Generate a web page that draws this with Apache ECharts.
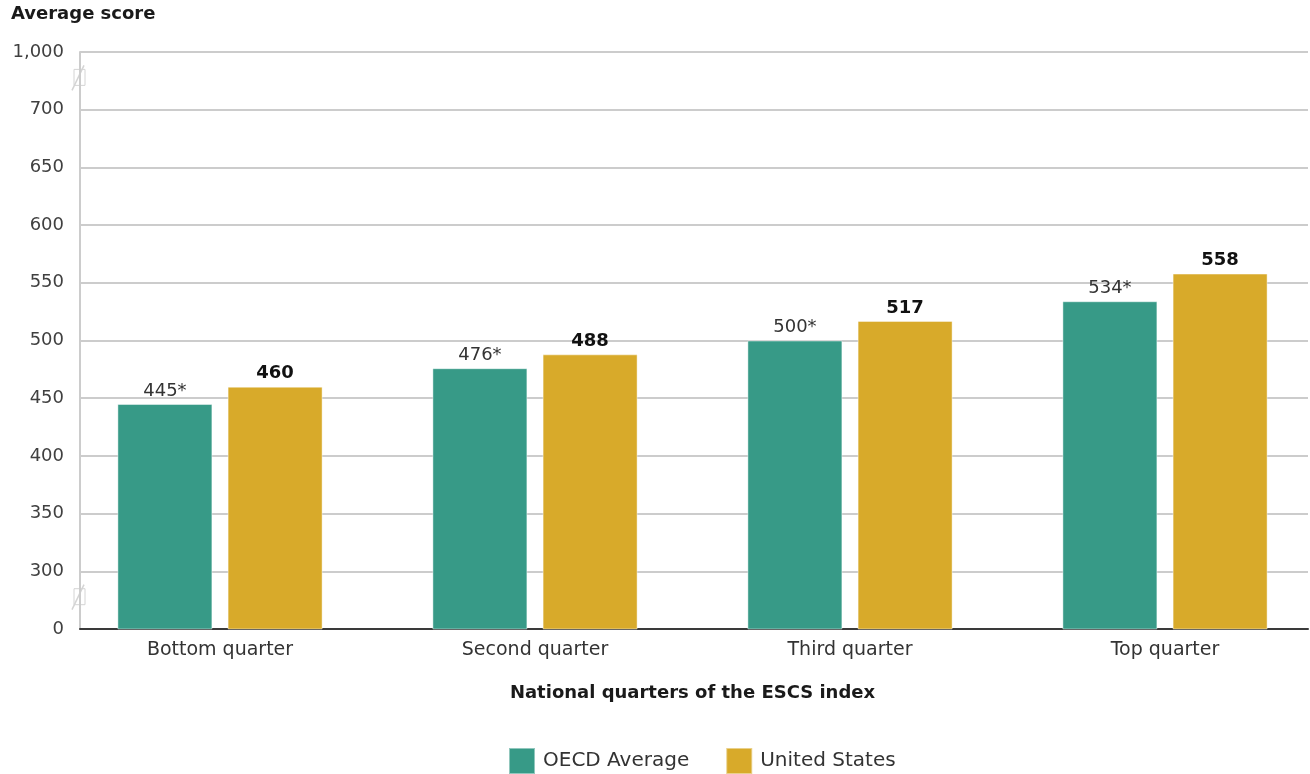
<!DOCTYPE html>
<html>
<head>
<meta charset="utf-8">
<script src="https://cdn.jsdelivr.net/npm/echarts@6/dist/echarts.min.js"></script>
<style>
  html, body { margin: 0; padding: 0; background: #fff; }
  #chart { width: 1310px; height: 774px; }
</style>
</head>
<body>
<div id="chart"></div>
<script>
// Average scores by national quarter of the ESCS index
const categories = ['Bottom quarter', 'Second quarter', 'Third quarter', 'Top quarter'];
const oecdAverage = [445, 476, 500, 534];
const unitedStates = [460, 488, 517, 558];
const seriesNames = ['OECD Average', 'United States'];

// Broken value axis: the bottom step stands for 0 and the top step for 1,000
const axisMin = 250, axisMax = 750, axisStep = 50;
const tickLabelFor = { 250: '0', 750: '1,000' };
const breakValues = [278, 728];

const FONT = '"DejaVu Sans", "Open Sans", sans-serif';
const TEAL = '#379a87';
const GOLD = '#d8aa2a';

const chart = echarts.init(document.getElementById('chart'), null, { renderer: 'canvas' });

const option = {
  animation: false,
  backgroundColor: '#ffffff',
  textStyle: { fontFamily: FONT },
  title: {
    text: 'Average score',
    left: 11, top: 5, padding: 0,
    textStyle: { fontFamily: FONT, fontSize: 18, fontWeight: 'bold', color: '#1a1a1a' }
  },
  legend: {
    data: seriesNames,
    left: 508, top: 747, padding: 0,
    itemWidth: 26, itemHeight: 26, itemGap: 36,
    icon: 'rect',
    textStyle: { fontFamily: FONT, fontSize: 20, color: '#333', padding: [0, 0, 0, 3] }
  },
  grid: [
    // bars and category labels
    { left: 62.5, right: -12.5, top: 52, bottom: 145, containLabel: false, outerBoundsMode: 'none' },
    // value axis, gridlines and baseline
    { left: 80, right: 2, top: 52, bottom: 145, containLabel: false, outerBoundsMode: 'none' }
  ],
  xAxis: [
    {
      type: 'category', gridIndex: 0, data: categories,
      axisLine: { show: false }, axisTick: { show: false },
      axisLabel: { fontFamily: FONT, fontSize: 19, color: '#333', margin: 12 },
      name: 'National quarters of the ESCS index',
      nameLocation: 'middle', nameGap: 55,
      nameTextStyle: { fontFamily: FONT, fontSize: 18, fontWeight: 'bold', color: '#1a1a1a' }
    },
    {
      type: 'category', gridIndex: 1, data: categories,
      axisLine: { show: true, lineStyle: { color: '#3a3a3a', width: 2 } },
      axisTick: { show: false }, axisLabel: { show: false }
    }
  ],
  yAxis: [
    {
      type: 'value', gridIndex: 0, min: axisMin, max: axisMax, interval: axisStep,
      show: false, splitLine: { show: false }
    },
    {
      type: 'value', gridIndex: 1, min: axisMin, max: axisMax, interval: axisStep,
      axisLine: { show: true, lineStyle: { color: '#cccccc', width: 2 } },
      axisTick: { show: false },
      splitLine: { show: true, lineStyle: { color: '#cccccc', width: 2 } },
      axisLabel: {
        fontFamily: FONT, fontSize: 18, color: '#404040', margin: 16,
        formatter: v => tickLabelFor[v] !== undefined ? tickLabelFor[v] : String(v)
      }
    }
  ],
  series: [
    {
      name: seriesNames[0], type: 'bar', xAxisIndex: 0, yAxisIndex: 0,
      data: oecdAverage, barWidth: 95, barGap: '16%', z: 3,
      itemStyle: { color: TEAL, borderColor: 'rgba(255,255,255,0.45)', borderWidth: 1 },
      label: {
        show: true, position: 'top', distance: 4,
        fontFamily: FONT, fontSize: 18, color: '#333',
        formatter: p => p.value + '*'
      }
    },
    {
      name: seriesNames[1], type: 'bar', xAxisIndex: 0, yAxisIndex: 0,
      data: unitedStates, barWidth: 95, barGap: '16%', z: 3,
      itemStyle: { color: GOLD, borderColor: 'rgba(255,255,255,0.45)', borderWidth: 1 },
      label: {
        show: true, position: 'top', distance: 4,
        fontFamily: FONT, fontSize: 18, fontWeight: 'bold', color: '#111'
      }
    }
  ]
};

chart.setOption(option);

// Small break markers on the value axis line
function breakMarker(v) {
  const pos = chart.convertToPixel({ xAxisIndex: 1, yAxisIndex: 1 }, [0, v]);
  const gridRect = chart.getModel().getComponent('grid', 1).coordinateSystem.getRect();
  const cx = gridRect.x, cy = pos[1];
  return {
    type: 'group', z: 10,
    children: [
      { type: 'rect', shape: { x: cx - 6, y: cy - 8, width: 11, height: 16 },
        style: { fill: '#fff', stroke: '#d4d4d4', lineWidth: 1 } },
      { type: 'line', shape: { x1: cx - 8, y1: cy + 13, x2: cx + 4, y2: cy - 12 },
        style: { stroke: '#d4d4d4', lineWidth: 1.5 } }
    ]
  };
}
chart.setOption({ graphic: breakValues.map(breakMarker) });
</script>
</body>
</html>
